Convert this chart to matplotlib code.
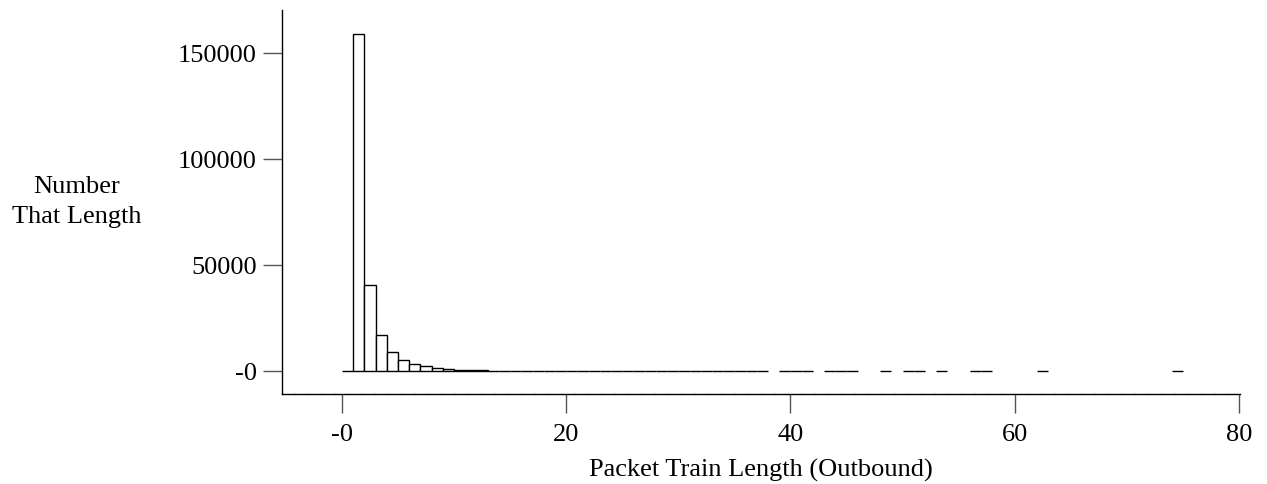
import matplotlib.pyplot as plt

# packet train length histogram (outbound), bins of width 1
lengths = list(range(0, 38)) + [39, 40, 41, 43, 44, 45, 48, 50, 51, 53, 56, 57, 62, 74]
counts = [20, 159000, 40500, 16700, 8800, 5200, 3300, 2400, 1300, 660,
          330, 200, 110, 80, 65, 55, 45, 40, 35, 30,
          27, 23, 20, 17, 15, 13, 11, 10, 9, 8,
          7, 6, 5, 5, 4, 4, 3, 3,
          2, 2, 1, 2, 1, 1, 1, 1, 1, 1, 1, 1, 1, 1]

xticks = [0, 20, 40, 60, 80]
xticklabels = ['-0', '20', '40', '60', '80']
yticks = [0, 50000, 100000, 150000]
yticklabels = ['-0', '50000', '100000', '150000']

plt.rcParams['font.family'] = ['Liberation Serif', 'DejaVu Serif']

fig = plt.figure(figsize=(12.67, 4.85), dpi=100)
ax = fig.add_axes([282 / 1267, 1 - 395 / 485, (1240 - 282) / 1267, (395 - 11) / 485])

ax.bar(lengths, counts, width=1, align='edge', facecolor='white',
       edgecolor='black', linewidth=1.0)

ax.set_xlim(-5.35, 80.1)
ax.set_ylim(-11000, 170300)

ax.spines['top'].set_visible(False)
ax.spines['right'].set_visible(False)
ax.spines['bottom'].set_linestyle((0, (8.9, 0.7)))
ax.spines['bottom'].set_linewidth(1.0)
ax.spines['left'].set_linewidth(1.0)

ax.set_xticks(xticks)
ax.set_xticklabels(xticklabels)
ax.set_yticks(yticks)
ax.set_yticklabels(yticklabels)
ax.tick_params(axis='both', direction='out', length=14, width=1.0,
               color='#555555', labelsize=19)
ax.tick_params(axis='x', pad=7)
ax.tick_params(axis='y', pad=4)

ax.set_xlabel('Packet Train Length (Outbound)', fontsize=19, labelpad=9)
fig.text(77 / 1267, 1 - 202 / 485, 'Number\nThat Length', fontsize=19,
         ha='center', va='center', linespacing=1.45)

fig.savefig('out.png', dpi=100)
